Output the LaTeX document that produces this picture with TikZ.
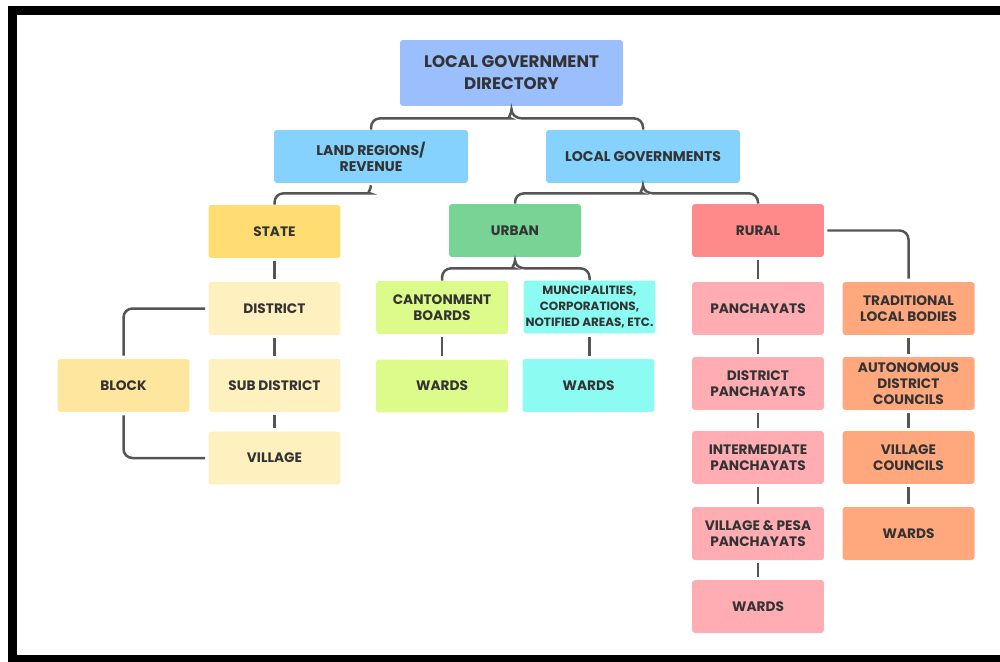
\documentclass[tikz,border=0pt]{standalone}
\usepackage{fontspec}
\setmainfont{Poppins}
\usetikzlibrary{calc}

\definecolor{ink}{HTML}{333333}
\definecolor{wire}{HTML}{555555}
\definecolor{topcol}{HTML}{9BBEFC}
\definecolor{skycol}{HTML}{84D2FD}
\definecolor{statecol}{HTML}{FFDD73}
\definecolor{landcol}{HTML}{FFF0BF}
\definecolor{blockcol}{HTML}{FFE69E}
\definecolor{urbancol}{HTML}{77D495}
\definecolor{limecol}{HTML}{DDFB8A}
\definecolor{cyancol}{HTML}{8CFBF2}
\definecolor{ruralcol}{HTML}{FF8A8A}
\definecolor{pinkcol}{HTML}{FFADB3}
\definecolor{peachcol}{HTML}{FFA87E}

\begin{document}
\begin{tikzpicture}[x=0.02cm,y=-0.02cm,
	box/.style={rounded corners=0.06cm, minimum width=2.64cm, minimum height=1.06cm,
		inner sep=1pt, align=center, text=ink, font=\bfseries\fontsize{7.8}{9}\selectfont},
	link/.style={draw=wire, line width=0.05cm, rounded corners=0.18cm},
	bar/.style={link, shorten <=0.06cm, shorten >=0.06cm}]
	\useasboundingbox (0,0) rectangle (1000,662);
	\fill[black] (8,6) rectangle (1000,15);
	\fill[black] (8,6) rectangle (17,662);
	\fill[black] (8,655) rectangle (1000,662);

	\node[box, fill=topcol, minimum width=4.46cm, minimum height=1.32cm,
		font=\bfseries\fontsize{9.5}{12.5}\selectfont] (lgd) at (511.5,73) {LOCAL GOVERNMENT\\DIRECTORY};

	\node[box, fill=skycol, minimum width=3.88cm, font=\bfseries\fontsize{8}{9.2}\selectfont] (land) at (371,156.5) {LAND REGIONS/\\REVENUE};
	\node[box, fill=skycol, minimum width=3.88cm, font=\bfseries\fontsize{8}{9.2}\selectfont] (locgov) at (643,156.5) {LOCAL GOVERNMENTS};

	\node[box, fill=statecol] (state) at (274.5,231.5) {STATE};
	\node[box, fill=urbancol] (urban) at (515,230.5) {URBAN};
	\node[box, fill=ruralcol] (rural) at (758,230.5) {RURAL};

	\node[box, fill=landcol] (district) at (274.5,308.5) {DISTRICT};
	\node[box, fill=blockcol] (block) at (123.5,385.5) {BLOCK};
	\node[box, fill=landcol] (subdist) at (274.5,385.5) {SUB DISTRICT};
	\node[box, fill=landcol] (village) at (274.5,458) {VILLAGE};

	\node[box, fill=limecol] (cant) at (442,307.5) {CANTONMENT\\BOARDS};
	\node[box, fill=limecol] (cantwards) at (442,386) {WARDS};
	\node[box, fill=cyancol, font=\bfseries\fontsize{6.8}{9.3}\selectfont] (munc) at (589.5,307) {MUNCIPALITIES,\\CORPORATIONS,\\NOTIFIED AREAS, ETC.};
	\node[box, fill=cyancol] (mucwards) at (588.5,385.5) {WARDS};

	\node[box, fill=pinkcol] (panch) at (758,308.5) {PANCHAYATS};
	\node[box, fill=pinkcol] (dpanch) at (758,383.5) {DISTRICT\\PANCHAYATS};
	\node[box, fill=pinkcol] (ipanch) at (758,457.5) {INTERMEDIATE\\PANCHAYATS};
	\node[box, fill=pinkcol] (vpesa) at (758,533.5) {VILLAGE \& PESA\\PANCHAYATS};
	\node[box, fill=pinkcol] (panchwards) at (758,606.5) {WARDS};

	\node[box, fill=peachcol] (trad) at (908.5,308.5) {TRADITIONAL\\LOCAL BODIES};
	\node[box, fill=peachcol] (adc) at (908.5,383.5) {AUTONOMOUS\\DISTRICT\\COUNCILS};
	\node[box, fill=peachcol] (vcouncil) at (908.5,457.5) {VILLAGE\\COUNCILS};
	\node[box, fill=peachcol] (tradwards) at (908.5,533.5) {WARDS};

	% braces
	\draw[link] (land.north) |- ($(lgd.south)+(-10,12)$) [sharp corners] to[out=0,in=-90] ($(lgd.south)+(0,3)$)
		to[out=-90,in=180] ($(lgd.south)+(10,12)$) [rounded corners=0.18cm] -| (locgov.north);
	\draw[link] (state.north) |- ($(land.south)+(-10,10)$) [sharp corners] to[out=0,in=-90] ($(land.south)+(0,2)$);
	\draw[link] (urban.north) |- ($(locgov.south)+(-10,10)$) [sharp corners] to[out=0,in=-90] ($(locgov.south)+(0,2)$)
		to[out=-90,in=180] ($(locgov.south)+(10,10)$) [rounded corners=0.18cm] -| (rural.north);
	\draw[link] (cant.north) |- ($(urban.south)+(-10,11)$) [sharp corners] to[out=0,in=-90] ($(urban.south)+(0,3)$)
		to[out=-90,in=180] ($(urban.south)+(10,11)$) [rounded corners=0.18cm] -| (munc.north);

	% straight links
	\draw[bar] (state) -- (district);
	\draw[bar] (district) -- (subdist);
	\draw[bar] (subdist) -- (village);
	\draw[bar] (district.west) -| (block.north);
	\draw[bar] (block.south) |- (village.west);
	\draw[bar] (cant) -- (cantwards);
	\draw[bar] (munc.south) -- (munc.south |- mucwards.north);
	\draw[bar] (rural) -- (panch);
	\draw[bar] (panch) -- (dpanch);
	\draw[bar] (dpanch) -- (ipanch);
	\draw[bar] (ipanch) -- (vpesa);
	\draw[bar] (vpesa) -- (panchwards);
	\draw[bar] (rural.east) -| (trad.north);
	\draw[bar] (trad) -- (adc);
	\draw[bar] (adc) -- (vcouncil);
	\draw[bar] (vcouncil) -- (tradwards);
\end{tikzpicture}
\end{document}
